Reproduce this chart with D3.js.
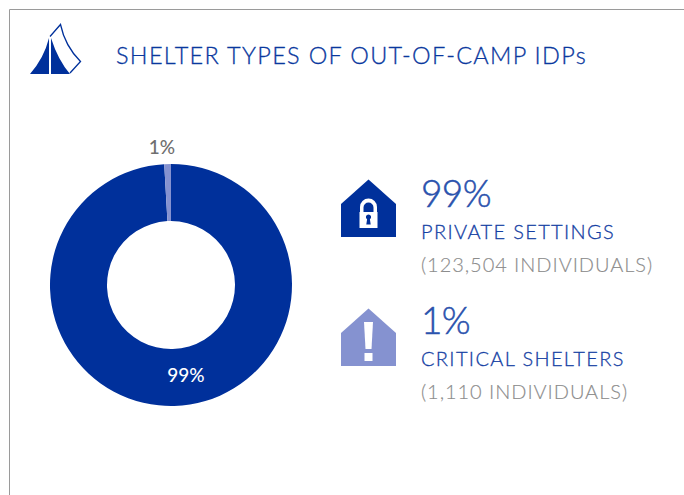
<!DOCTYPE html>
<html><head><meta charset="utf-8">
<script src="https://cdnjs.cloudflare.com/ajax/libs/d3/7.8.5/d3.min.js"></script>
<style>html,body{margin:0;padding:0;background:#fff;overflow:hidden}svg{display:block}text{font-family:Lato,sans-serif}</style>
</head><body><svg id="c" width="684" height="495"></svg>
<script>
const categories = ["PRIVATE SETTINGS", "CRITICAL SHELTERS"];
const individuals = [123504, 1110];
const percentLabels = ["99%", "1%"];
const detailLabels = ["(123,504 INDIVIDUALS)", "(1,110 INDIVIDUALS)"];
const colors = ["#00309b", "#8592d0"];
const title = "SHELTER TYPES OF OUT-OF-CAMP IDPs";

const svg = d3.select("#c");
svg.append("path").attr("d","M9.5 495V9.5H684").attr("fill","none").attr("stroke","#9a9a9a").attr("stroke-width",1);

// tent icon
const tent = svg.append("g");
tent.append("path").attr("d","M49 38 L49 74 L30 74 Q44 58 49 38Z").attr("fill",colors[0]);
tent.append("path").attr("d","M51 38 L51 74 L70 74 Q58 60 51 38Z").attr("fill",colors[0]);
tent.append("path").attr("d","M50 36.5 L60.500 24.500 Q65 46 80.500 61.500 L70 73").attr("fill","none").attr("stroke",colors[0]).attr("stroke-width",1.3);

svg.append("text").attr("x",116).attr("y",64).attr("font-size",23.5).attr("font-weight",300).attr("fill","#0a389e").attr("stroke","#0a389e").attr("stroke-width",.3).attr("letter-spacing",1.3).text(title);

// donut
const pie = d3.pie().sort(null)(individuals);
const arc = d3.arc().innerRadius(64).outerRadius(121);
const g = svg.append("g").attr("transform","translate(171,285)");
g.selectAll("path").data(pie).join("path").attr("d",arc).attr("fill",(d,i)=>colors[i]);
svg.append("text").attr("x",186).attr("y",382).attr("text-anchor","middle").attr("font-size",19).attr("font-weight",500).attr("fill","#fff").text(percentLabels[0]);
svg.append("text").attr("x",162).attr("y",154).attr("text-anchor","middle").attr("font-size",19).attr("font-weight",500).attr("fill","#6f6f6f").text(percentLabels[1]);

// houses
const rowY = [0, 127];
const house = "M341 237V204L368.500 179.500L396 204V237Z";
rowY.forEach((dy,i)=>{
  svg.append("path").attr("transform",`translate(0,${i?dy+2:0})`).attr("d",house).attr("fill",colors[i]);
});
// lock
const lock = svg.append("g").attr("fill","#fff");
lock.append("path").attr("fill-rule","evenodd").attr("d","M360 212V207A8.500 8.500 0 0 1 377 207V212H373.500V207.500A5 5 0 0 0 363.500 207.500V212Z");
lock.append("path").attr("fill-rule","evenodd").attr("d","M360 212H378V228H360ZM369 214.500A2.600 2.600 0 0 0 367.600 219.300L366.800 224.500H371.200L370.400 219.300A2.600 2.600 0 0 0 369 214.500Z").attr("transform","translate(-0.500,0)");
// exclamation
svg.append("path").attr("d","M364 322H373L371.500 349H365.500Z").attr("fill","#fff");
svg.append("rect").attr("x",364.500).attr("y",353).attr("width",8).attr("height",8).attr("fill","#fff");

// labels
const tx = 421;
categories.forEach((c,i)=>{
  const dy = rowY[i];
  svg.append("text").attr("x",tx).attr("y",207+dy).attr("font-size",37).attr("fill","#2a52ad").attr("stroke","#2a52ad").attr("stroke-width",.5).attr("font-weight",300).attr("letter-spacing",-.6).text(percentLabels[i]);
  svg.append("text").attr("x",tx).attr("y",239+dy).attr("font-size",20).attr("fill","#1440a3").attr("stroke","#1440a3").attr("stroke-width",.3).attr("font-weight",300).attr("letter-spacing",1.35).text(c);
  svg.append("text").attr("x",tx).attr("y",272+dy).attr("font-size",20).attr("fill","#8c8c8c").attr("stroke","#8c8c8c").attr("stroke-width",.15).attr("font-weight",300).attr("letter-spacing",.95).text(detailLabels[i]);
});
</script></body></html>
